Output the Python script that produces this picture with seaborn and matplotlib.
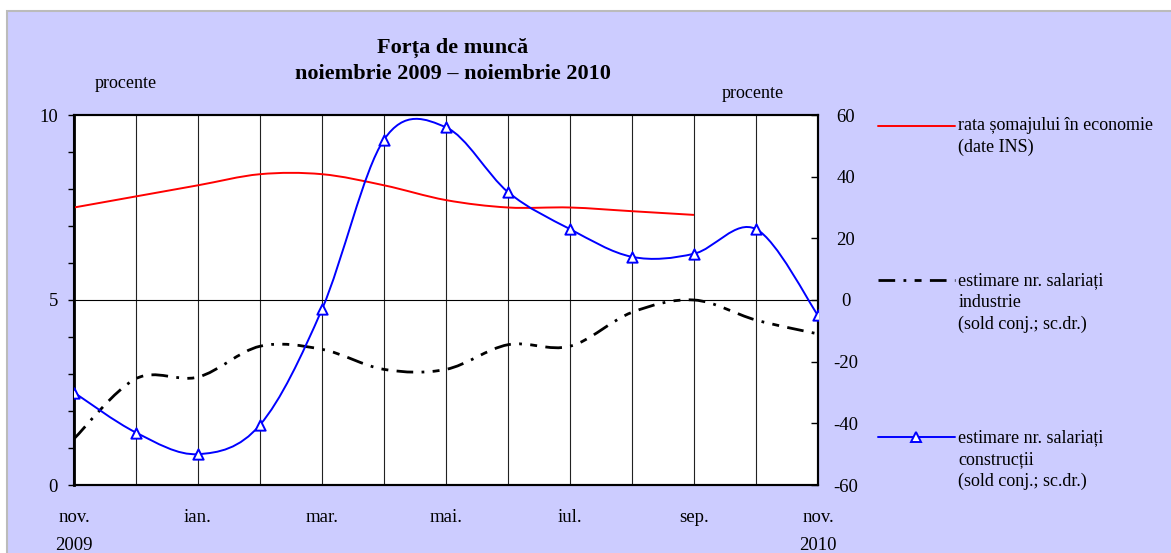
import numpy as np
import matplotlib
matplotlib.use("Agg")
import matplotlib.pyplot as plt
import seaborn as sns
from matplotlib.path import Path
from matplotlib.patches import PathPatch, Rectangle
from matplotlib.lines import Line2D
from matplotlib.legend_handler import HandlerLine2D

sns.set_theme(style="white")
plt.rcParams['font.family'] = ['Liberation Serif', 'DejaVu Serif']
plt.rcParams['text.color'] = 'black'
plt.rcParams['axes.unicode_minus'] = False

# data (nov 2009 .. nov 2010)
months = list(range(13))
tick_pos = [0, 2, 4, 6, 8, 10, 12]
tick_labels = ['nov.\n2009', 'ian.', 'mar.', 'mai.', 'iul.', 'sep.', 'nov.\n2010']

somaj = [7.5, 7.8, 8.1, 8.4, 8.4, 8.1, 7.7, 7.5, 7.5, 7.4, 7.3]          # left axis, nov..sep
industrie = [-45, -25.5, -25, -15, -16, -22.5, -22.5, -14.5, -15, -4, 0, -6.5, -11]
constructii = [-30, -43, -50, -40.5, -3, 52, 56, 35, 23, 14, 15, 23, -5]

lab_somaj = 'rata șomajului în economie\n(date INS)'
lab_ind = 'estimare nr. salariați\nindustrie\n(sold conj.; sc.dr.)'
lab_con = 'estimare nr. salariați\nconstrucții\n(sold conj.; sc.dr.)'

RED = '#FF0000'
BLUE = '#0000FF'
BG = '#CCCCFF'
ind_dash = (6, 3, 1, 3, 2.5, 3)


def smooth_path(xs, ys):
    # excel style smoothed line (catmull-rom as bezier)
    p = np.column_stack([xs, ys]).astype(float)
    n = len(p)
    verts = [p[0]]
    codes = [Path.MOVETO]
    for i in range(n - 1):
        p0 = p[max(i - 1, 0)]
        p1 = p[i]
        p2 = p[i + 1]
        p3 = p[min(i + 2, n - 1)]
        verts += [p1 + (p2 - p0) / 6, p2 - (p3 - p1) / 6, p2]
        codes += [Path.CURVE4] * 3
    return Path(verts, codes)


class RaisedLine(HandlerLine2D):
    # put the legend line at the first line of a multi-line label
    def __init__(self, lift, **kw):
        super().__init__(**kw)
        self.lift = lift

    def create_artists(self, legend, orig_handle, xdescent, ydescent,
                       width, height, fontsize, trans):
        arts = super().create_artists(legend, orig_handle, xdescent, ydescent,
                                      width, height, fontsize, trans)
        for a in arts:
            a.set_ydata(np.asarray(a.get_ydata()) + self.lift * fontsize)
        return arts


W, H = 1171, 553
fig = plt.figure(figsize=(W / 100, H / 100), dpi=100, facecolor='white')
fig.patches.append(Rectangle((7 / W, -0.01), 1.0, 1 - 11 / H + 0.01,
                             transform=fig.transFigure, facecolor=BG,
                             edgecolor='#BBBBBB', linewidth=1.5, zorder=-10))

ax = fig.add_axes([74 / W, 1 - 485 / H, (818 - 74) / W, (485 - 115) / H])
ax.set_facecolor('white')
ax2 = ax.twinx()

# grid: every month vertically, only at 5 horizontally
for m in months[1:-1]:
    ax.axvline(m, color='#222222', lw=0.8, zorder=1)
ax.axhline(5, color='black', lw=0.8, zorder=1)

ax.add_patch(PathPatch(smooth_path(months[:len(somaj)], somaj), fill=False,
                       edgecolor=RED, lw=1.4, zorder=3))
ax2.add_patch(PathPatch(smooth_path(months, industrie), fill=False,
                        edgecolor='black', lw=2.0, zorder=3,
                        linestyle=(0, ind_dash)))
ax2.add_patch(PathPatch(smooth_path(months, constructii), fill=False,
                        edgecolor=BLUE, lw=1.4, zorder=4))
sns.scatterplot(x=months, y=constructii, ax=ax2, marker='^', s=55,
                facecolor='white', edgecolor=BLUE, linewidth=1.4,
                zorder=5, legend=False)

ax.set_xlim(0, 12)
ax.set_ylim(0, 10)
ax2.set_ylim(-60, 60)
ax.set_yticks([0, 5, 10])
ax.set_yticks(range(11), minor=True)
ax2.set_yticks(range(-60, 61, 20))

ax.set_xticks(tick_pos)
ax.set_xticklabels(tick_labels, fontsize=13.5)
for t in ax.get_xticklabels():
    t.set_linespacing(1.9)
ax.tick_params(axis='x', length=0, pad=17, colors='black')
ax.tick_params(axis='y', which='both', direction='out', length=4.5,
               width=1, pad=7, labelsize=13.5, colors='black', left=True)
ax2.tick_params(axis='y', direction='in', length=5, width=1, pad=20,
                labelsize=13.5, colors='black', right=True)
for t in ax2.get_yticklabels():
    t.set_ha('center')

for a in (ax, ax2):
    for sp in a.spines.values():
        sp.set_color('black')
        sp.set_linewidth(1.5)
ax.spines['left'].set_linewidth(2)

fig.text(453 / W, 1 - 61 / H, 'Forța de muncă\nnoiembrie 2009 – noiembrie 2010',
         ha='center', va='center', fontsize=16, fontweight='bold',
         linespacing=1.45)
fig.text(95 / W, 1 - 84 / H, 'procente', ha='left', va='center', fontsize=13)
fig.text(722 / W, 1 - 93 / H, 'procente', ha='left', va='center', fontsize=13)

# legend, one block per series
h_somaj = Line2D([], [], color=RED, lw=1.4)
h_ind = Line2D([], [], color='black', lw=2.0, linestyle=(0, ind_dash))
h_con = Line2D([], [], color=BLUE, lw=1.4, marker='^', markersize=7.5,
               markerfacecolor='white', markeredgecolor=BLUE, markeredgewidth=1.4)
for h, lab, ytop in [(h_somaj, lab_somaj, 117), (h_ind, lab_ind, 272), (h_con, lab_con, 429)]:
    nl = lab.count('\n')
    leg = fig.legend([h], [lab], loc='upper left', bbox_to_anchor=(878 / W, 1 - ytop / H),
                     frameon=False, borderpad=0, borderaxespad=0, handlelength=4.25,
                     handletextpad=0.2, fontsize=13, numpoints=1,
                     handler_map={h: RaisedLine(lift=nl * 0.62)})
    for t in leg.get_texts():
        t.set_linespacing(1.38)

fig.savefig('out.png', dpi=100)
